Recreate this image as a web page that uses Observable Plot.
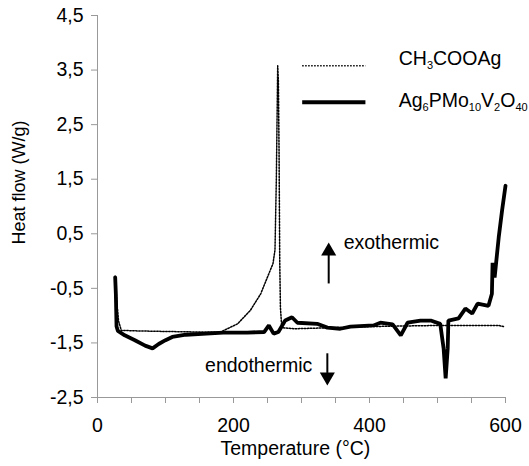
<!DOCTYPE html>
<html><head><meta charset="utf-8">
<script src="https://cdn.jsdelivr.net/npm/d3@7"></script>
<script src="https://cdn.jsdelivr.net/npm/@observablehq/plot@0.6"></script>
<style>body{margin:0;background:#fff;} svg{display:block;}</style>
</head><body><div id="chart"></div>
<script>
// CH3COOAg (dotted)
const acetateTemp = [26, 28, 31, 35, 60, 100, 150, 181, 206, 225, 240, 254, 258, 261, 263, 265, 266, 267, 268, 269, 271, 290, 350, 400, 500, 590, 597];
const acetateHeat = [-0.28, -0.7, -1.1, -1.27, -1.28, -1.29, -1.30, -1.30, -1.15, -0.9, -0.6, -0.17, -0.05, 0.2, 1.5, 3.58, 3.3, 2.0, 0.0, -0.85, -1.22, -1.24, -1.22, -1.2, -1.18, -1.18, -1.20];
// Ag6PMo10V2O40 (thick)
const hpaTemp = [26, 27, 28, 30, 40, 55, 70, 81, 90, 100, 110, 130, 160, 185, 220, 245, 252, 259, 266, 276, 286, 294, 323, 338, 357, 372, 406, 416, 434, 446, 456, 475, 490, 504, 509, 512, 515, 516, 531, 541, 551, 559, 575, 580, 581, 584, 590, 595, 600];
const hpaHeat = [-0.30, -0.6, -1.2, -1.28, -1.36, -1.45, -1.55, -1.60, -1.52, -1.45, -1.39, -1.35, -1.33, -1.31, -1.31, -1.30, -1.18, -1.33, -1.30, -1.09, -1.03, -1.13, -1.15, -1.22, -1.24, -1.20, -1.18, -1.13, -1.16, -1.36, -1.13, -1.09, -1.09, -1.15, -1.6, -2.15, -1.6, -1.09, -1.05, -0.87, -0.96, -0.78, -0.82, -0.6, -0.03, -0.3, 0.43, 0.93, 1.38];

const yTicks = [-2.5, -1.5, -0.5, 0.5, 1.5, 2.5, 3.5, 4.5];
const xTicks = [0, 50, 100, 150, 200, 250, 300, 350, 400, 450, 500, 550, 600];
const xLabels = [0, 200, 400, 600];
const seriesNames = ["CH3COOAg", "Ag6PMo10V2O40"];

const acetate = acetateTemp.map((t, i) => ({t, h: acetateHeat[i]}));
const hpa = hpaTemp.map((t, i) => ({t, h: hpaHeat[i]}));

const font = "'Liberation Sans', Arial, sans-serif";
const fs = 19.5;
const dots = "1.5,1.5";
const chart = Plot.plot({
  width: 529, height: 466,
  marginLeft: 97, marginRight: 24, marginTop: 15, marginBottom: 69,
  style: {fontFamily: font, fontSize: fs + "px", background: "#fff", color: "#000"},
  x: {domain: [0, 600]},
  y: {domain: [-2.5, 4.5]},
  marks: [
    Plot.axisX({ticks: xTicks, tickSize: 6, tickPadding: 15, stroke: "#999", label: null,
      tickFormat: d => xLabels.includes(d) ? String(d) : ""}),
    Plot.axisY({ticks: yTicks, tickSize: 6, tickPadding: 8, stroke: "#999", label: null,
      tickFormat: d => d.toFixed(1).replace(".", ",")}),
    Plot.ruleX([0], {stroke: "#999"}),
    Plot.ruleY([-2.5], {stroke: "#999"}),
    Plot.line(hpa, {x: "t", y: "h", stroke: "#000", strokeWidth: 3.8, strokeLinejoin: "miter"}),
    Plot.line(acetate, {x: "t", y: "h", stroke: "#000", strokeWidth: 1.5, strokeDasharray: dots}),
    // legend
    Plot.link([0], {x1: 301, x2: 394, y1: 3.58, y2: 3.58, stroke: "#000", strokeWidth: 1.5, strokeDasharray: dots}),
    Plot.link([0], {x1: 301, x2: 394, y1: 2.91, y2: 2.91, stroke: "#000", strokeWidth: 3.8}),
    Plot.text([seriesNames[0]], {x: 443, y: 3.60, text: d => d, textAnchor: "start", lineAnchor: "bottom", fontSize: fs}),
    Plot.text([seriesNames[1]], {x: 443, y: 2.83, text: d => d, textAnchor: "start", lineAnchor: "bottom", fontSize: fs}),
    // annotations
    Plot.link([0], {x1: 340, x2: 340, y1: -0.41, y2: 0.12, stroke: "#000", strokeWidth: 2}),
    Plot.dot([0], {x: 340, y: 0.18, symbol: "triangle", r: 5.6, fill: "#000"}),
    Plot.text(["exothermic"], {x: 362, y: 0.23, text: d => d, textAnchor: "start", lineAnchor: "bottom", fontSize: fs}),
    Plot.link([0], {x1: 338, x2: 338, y1: -1.69, y2: -2.05, stroke: "#000", strokeWidth: 2}),
    Plot.dot([0], {x: 338, y: -2.12, symbol: "triangle", r: 5.6, fill: "#000", rotate: 180}),
    Plot.text(["endothermic"], {x: 316, y: -2.04, text: d => d, textAnchor: "end", lineAnchor: "bottom", fontSize: fs}),
    // axis titles
    Plot.text(["Heat flow (W/g)"], {x: 0, y: 1.44, dx: -78, rotate: -90, text: d => d, fontSize: 18}),
    Plot.text(["Temperature (°C)"], {x: 291, y: -2.5, dy: 51, text: d => d, fontSize: fs})
  ]
});

// subscripts in legend
const parts = {
  "CH3COOAg": [["CH", 0], ["3", 1], ["COOAg", 0]],
  "Ag6PMo10V2O40": [["Ag", 0], ["6", 1], ["PMo", 0], ["10", 1], ["V", 0], ["2", 1], ["O", 0], ["40", 1]]
};
d3.select(chart).selectAll("text").each(function() {
  const s = this.textContent;
  if (!parts[s]) return;
  const el = d3.select(this);
  el.text(null);
  let prevSub = 0;
  for (const [str, sub] of parts[s]) {
    const ts = el.append("tspan").text(str);
    if (sub) ts.attr("font-size", 11);
    if (sub !== prevSub) ts.attr("dy", sub ? 4 : -4);
    prevSub = sub;
  }
});
document.getElementById("chart").appendChild(chart);
</script>
</body></html>
